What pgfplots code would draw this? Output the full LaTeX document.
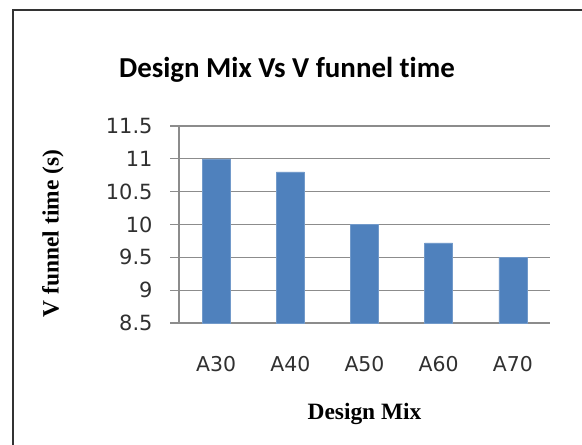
\documentclass[border=0pt]{standalone}
\usepackage{pgfplots}
\pgfplotsset{compat=1.18}
\usepackage{fontspec}
\setmainfont{Liberation Serif}
\newfontfamily\tickfont{DejaVu Sans}
\newfontfamily\titlefont[Ligatures=NoCommon]{Carlito}
\definecolor{barblue}{HTML}{4F81BD}
\definecolor{gridgray}{HTML}{8C8C8C}
\definecolor{ticktext}{HTML}{303030}
\begin{document}
\begin{tikzpicture}[x=1bp,y=1bp]
\useasboundingbox (0,0) rectangle (582,445);
\draw[line width=2.2bp, color=black!80] (13,-5) -- (13,435) -- (590,435);
\begin{axis}[
  at={(179bp,122bp)}, anchor=south west,
  scale only axis, width=371bp, height=197bp,
  xmin=-0.5, xmax=4.5, ymin=8.5, ymax=11.5,
  axis x line=bottom, axis y line=left,
  axis line style={-, gridgray, line width=1.2bp},
  xtick={0,1,2,3,4},
  xticklabels={A30,A40,A50,A60,A70},
  x tick label style={font=\tickfont\fontsize{20.5}{20.5}\selectfont, text=ticktext, yshift=-21bp},
  extra x ticks={-0.5,0.5,1.5,2.5,3.5,4.5},
  extra x tick labels={},
  extra x tick style={major tick length=9bp, tick style={gridgray, line width=1.2bp}, grid=none},
  ytick={8.5,9,9.5,10,10.5,11,11.5},
  yticklabels={8.5,9,9.5,10,10.5,11,11.5},
  y tick label style={font=\tickfont\fontsize{21}{21}\selectfont, text=ticktext, xshift=-14bp},
  tick align=outside,
  major tick length=9bp,
  xtick style={draw=none},
  ytick style={gridgray, line width=1.2bp},
  ymajorgrids,
  major grid style={gridgray, line width=1.2bp},
  title={\titlefont\bfseries Design Mix Vs V funnel time},
  title style={font=\fontsize{29}{29}\selectfont, at={(axis description cs:0.291,1.218)}, anchor=base},
  xlabel={\bfseries Design Mix},
  xlabel style={font=\fontsize{23.5}{23.5}\selectfont, at={(axis description cs:0.5,-0.49)}, anchor=base},
  ylabel={\bfseries V funnel time (s)},
  ylabel style={font=\fontsize{23.5}{23.5}\selectfont, at={(axis description cs:-0.34,0.454)}, anchor=center, rotate=0},
  clip=false,
]
\addplot[ybar, bar width=28bp, fill=barblue, draw=barblue!80!white, line width=0.6bp] coordinates {
  (0,11.0) (1,10.8) (2,10.0) (3,9.72) (4,9.5)
};
\end{axis}
\end{tikzpicture}
\end{document}
